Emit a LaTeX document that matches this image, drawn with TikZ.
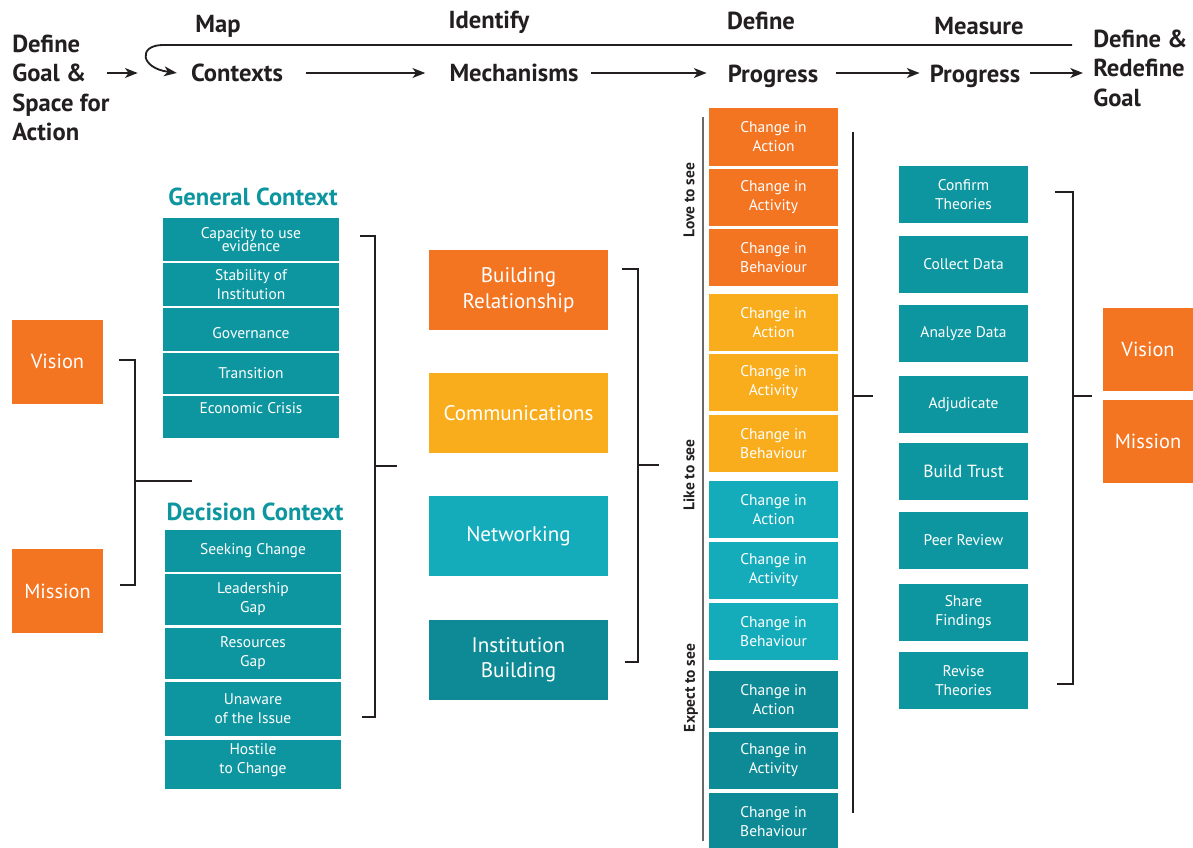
\documentclass[tikz,border=0pt]{standalone}
\usepackage{fontspec}
\setmainfont{PT Sans}
\usetikzlibrary{positioning, calc, arrows.meta}
\definecolor{pgOrange}{RGB}{243,116,33}
\definecolor{pgAmber}{RGB}{249,173,29}
\definecolor{pgLightTeal}{RGB}{20,172,187}
\definecolor{pgTeal}{RGB}{14,150,160}
\definecolor{pgDarkTeal}{RGB}{13,138,149}
\definecolor{pgInk}{RGB}{35,31,32}
\definecolor{pgGray}{RGB}{105,105,105}

\begin{document}
\begin{tikzpicture}[x=0.025cm, y=-0.025cm,
  head/.style={text=pgInk, inner sep=0pt, align=left, font=\fontsize{17.5}{21}\selectfont\bfseries},
  box/.style={fill=pgTeal, text=white, inner sep=1pt, align=center, font=\fontsize{11}{13.5}\selectfont},
  ctx/.style={box, minimum width=4.4cm},
  mech/.style={box, minimum width=4.475cm, minimum height=2cm, font=\fontsize{15}{18}\selectfont},
  chg/.style={box, minimum width=3.225cm, minimum height=1.425cm},
  meas/.style={box, minimum width=3.225cm, minimum height=1.425cm},
  goalbox/.style={box, fill=pgOrange, minimum width=2.275cm, minimum height=2.1cm, font=\fontsize{14.5}{18}\selectfont},
  title/.style={text=pgTeal, inner sep=0pt, font=\fontsize{17.5}{20}\selectfont\bfseries},
  tag/.style={text=pgInk, rotate=90, inner sep=0pt, font=\fontsize{11}{13}\selectfont\bfseries},
  arrow/.style={-{Stealth[length=9pt, width=7pt, inset=2.5pt]}, line width=1.3pt, pgInk},
  brace/.style={line width=1.8pt, pgInk}
]
  \fill[white] (0,0) rectangle (1193,848);
  \useasboundingbox (0,0) rectangle (1193,848);

  % header
  \coordinate (row) at (0,73);
  \node[head, anchor=west] (goal) at (12,88) {Define\\Goal \&\\Space for\\Action};
  \node[head] (mapL) at (218,26) {Map};
  \node[head] (contexts) at (237,73) {Contexts};
  \node[head] (identL) at (489,22) {Identify};
  \node[head] (mechs) at (514,73) {Mechanisms};
  \node[head] (defL) at (761,21) {Define};
  \node[head] (defprog) at (773,76) {Progress};
  \node[head] (measL) at (979,26) {Measure};
  \node[head] (measprog) at (975,76) {Progress};
  \node[head, anchor=west] (newgoal) at (1093,68) {Define \&\\Redefine\\Goal};
  \coordinate (loop) at (1072,45);

  \draw[arrow] ($(goal.east |- row)+(-3,0)$) -- ++(31,0);
  \draw[arrow] (loop) -- (163,45) .. controls (138,45) and (140,68) .. ([xshift=-0.35cm]contexts.west |- row);
  \draw[arrow] ([xshift=0.575cm]contexts.east |- row) -- ([xshift=-0.6cm]mechs.west |- row);
  \draw[arrow] ([xshift=0.3cm]mechs.east |- row) -- ([xshift=-0.525cm]defprog.west |- row);
  \draw[arrow] ([xshift=0.45cm]defprog.east |- row) -- ([xshift=-0.25cm]measprog.west |- row);
  \draw[arrow] ([xshift=0.25cm]measprog.east |- row) -- ([xshift=-0.25cm]newgoal.west |- row);

  % vision and mission
  \node[goalbox] (visL) at (57.5,362) {\mbox{}\\[-9pt]Vision};
  \node[goalbox] (misL) at (57.5,591) {Mission};

  % contexts
  \node[title] (genT) at (253,197) {General Context};
  \node[ctx, minimum height=1.075cm] (cap) at (251,239.5) {Capacity to use\\[-4pt]evidence};
  \node[ctx, minimum height=1.075cm] (stab) at (251,284.5) {Stability of\\Institution};
  \node[ctx, minimum height=1.075cm] (gov) at (251,329.5) {\mbox{}\\Governance};
  \node[ctx, minimum height=1.025cm] (trans) at (251,373.5) {Transition};
  \node[ctx, minimum height=1.05cm] (econ) at (251,417) {Economic Crisis\\\mbox{}};

  \node[title] (decT) at (255,512) {Decision Context};
  \node[ctx, minimum height=1.05cm] (seek) at (253,551) {Seeking Change};
  \node[ctx, minimum height=1.275cm] (lead) at (253,599.5) {Leadership\\Gap};
  \node[ctx, minimum height=1.275cm] (res) at (253,653.5) {Resources\\Gap};
  \node[ctx, minimum height=1.35cm] (unaw) at (253,709) {Unaware\\of the Issue};
  \node[ctx, minimum height=1.2cm] (host) at (253,764.5) {Hostile\\to Change\\[-5pt]\mbox{}};

  % mechanisms
  \node[mech, fill=pgOrange] (bld) at (518.5,290) {Building\\Relationship};
  \node[mech, fill=pgAmber] (comm) at (518.5,413) {Communications};
  \node[mech, fill=pgLightTeal] (net) at (518.5,536) {Networking};
  \node[mech, fill=pgDarkTeal] (inst) at (518.5,660) {Institution\\Building};

  % progress
  \node[tag] (love) at (689,200) {Love to see};
  \node[tag] (like) at (689,475) {Like to see};
  \node[tag] (expect) at (691,688) {Expect to see};

  \node[chg, fill=pgOrange] (oAct) at (773.5,137) {Change in\\Action};
  \node[chg, fill=pgOrange] (oAty) at (773.5,197.5) {Change in\\Activity};
  \node[chg, fill=pgOrange] (oBeh) at (773.5,257.5) {Change in\\Behaviour};
  \node[chg, fill=pgAmber] (aAct) at (773.5,322.5) {Change in\\Action};
  \node[chg, fill=pgAmber] (aAty) at (773.5,382.5) {Change in\\Activity};
  \node[chg, fill=pgAmber] (aBeh) at (773.5,443.5) {Change in\\Behaviour};
  \node[chg, fill=pgLightTeal] (lAct) at (773.5,509.5) {Change in\\Action};
  \node[chg, fill=pgLightTeal] (lAty) at (773.5,570.5) {Change in\\Activity};
  \node[chg, fill=pgLightTeal] (lBeh) at (773.5,631.5) {Change in\\Behaviour};
  \node[chg, fill=pgDarkTeal] (dAct) at (773.5,699.5) {Change in\\Action};
  \node[chg, fill=pgDarkTeal] (dAty) at (773.5,760.5) {Change in\\Activity};
  \node[chg, fill=pgDarkTeal] (dBeh) at (773.5,821.5) {Change in\\Behaviour};

  % measure
  \node[meas] (conf) at (963.5,194.5) {Confirm\\Theories};
  \node[meas] (coll) at (963.5,264.5) {Collect Data};
  \node[meas] (anal) at (963.5,333.5) {Analyze Data};
  \node[meas] (adj) at (963.5,404.5) {Adjudicate};
  \node[meas, font=\fontsize{12.5}{15}\selectfont] (trust) at (963.5,471.5) {Build Trust};
  \node[meas] (peer) at (963.5,540.5) {Peer Review};
  \node[meas] (share) at (963.5,612.5) {Share\\Findings};
  \node[meas] (rev) at (963.5,680.5) {Revise\\Theories};

  \node[goalbox, minimum width=2.25cm, minimum height=2.075cm] (visR) at (1148,349.5) {Vision};
  \node[goalbox, minimum width=2.25cm, minimum height=2.075cm] (misR) at (1148,441.5) {Mission};

  % brackets
  \draw[brace] (119,360) -| (135,585) -- (120,585);
  \draw[brace] (135,481) -- (192,481);
  \draw[brace] (360,236) -| (375,717) -- (362,717);
  \draw[brace] (375,466) -- (397,466);
  \draw[brace] (622,269) -| (638,662) -- (625,662);
  \draw[brace] (638,465) -- (659,465);
  \draw[line width=1.3pt, pgGray] (703,117) -- (703,841);
  \draw[brace, line width=1.5pt] (853,132) -- (853,813);
  \draw[brace, line width=1.5pt] (853,396) -- (873,396);
  \draw[brace] (1055,192) -| (1073,684) -- (1057,684);
  \draw[brace] (1073,396) -- (1092,396);
\end{tikzpicture}
\end{document}
